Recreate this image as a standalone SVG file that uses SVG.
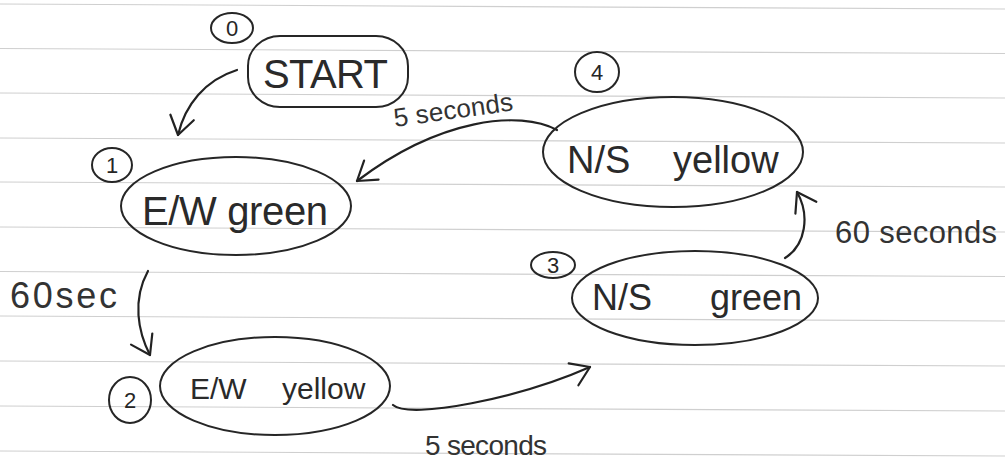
<svg xmlns="http://www.w3.org/2000/svg" width="1005" height="464" viewBox="0 0 1005 464">
<style>
.rule{stroke:#cfcfcf;stroke-width:1.2;fill:none}
.node{fill:none;stroke:#262626;stroke-width:2}
.num{fill:none;stroke:#262626;stroke-width:2}
.edge{fill:none;stroke:#222;stroke-width:2.2;stroke-linecap:round}
.t{font-family:"Liberation Sans",Arial,sans-serif;fill:#2a2a2a}
.lbl{font-family:"Liberation Sans",Arial,sans-serif;fill:#333}
.n{font-family:"Liberation Sans",Arial,sans-serif;fill:#262626;font-size:22px;text-anchor:middle}
</style>
<defs>
<marker id="ah" viewBox="-25 -20 30 40" markerWidth="30" markerHeight="40" refX="0" refY="0" orient="auto" markerUnits="userSpaceOnUse" overflow="visible">
<path d="M-18,-12 L0,0 L-18,12" fill="none" stroke="#222" stroke-width="2.2" stroke-linecap="round" stroke-linejoin="round"/>
</marker>
</defs>
<rect width="1005" height="464" fill="#fff"/>
<g id="paper">
<line class="rule" x1="0" y1="4" x2="1005" y2="9"/>
<line class="rule" x1="0" y1="48.5" x2="1005" y2="53.5"/>
<line class="rule" x1="0" y1="93" x2="1005" y2="98"/>
<line class="rule" x1="0" y1="138" x2="1005" y2="143"/>
<line class="rule" x1="0" y1="182" x2="1005" y2="187"/>
<line class="rule" x1="0" y1="227" x2="1005" y2="232"/>
<line class="rule" x1="0" y1="271.5" x2="1005" y2="276.5"/>
<line class="rule" x1="0" y1="316" x2="1005" y2="321"/>
<line class="rule" x1="0" y1="361" x2="1005" y2="366"/>
<line class="rule" x1="0" y1="406" x2="1005" y2="411"/>
<line class="rule" x1="0" y1="451" x2="1005" y2="456"/>
</g>
<g id="connectors">
<path class="edge" d="M237,70 C205,80 185,105 178,135" marker-end="url(#ah)"/>
<path class="edge" d="M557,130 C520,110 440,118 357,181" marker-end="url(#ah)"/>
<path class="edge" d="M148,271 C132,300 138,332 150,355" marker-end="url(#ah)"/>
<path class="edge" d="M393,405 C410,420 520,398 590,367" marker-end="url(#ah)"/>
<path class="edge" d="M785,258 C806,245 810,215 797,192" marker-end="url(#ah)"/>
<text class="lbl" transform="translate(395,127) rotate(-8)" font-size="26" textLength="120">5 seconds</text>
<text class="lbl" x="10" y="308" font-size="36" textLength="107">60sec</text>
<text class="lbl" x="425" y="455" font-size="28" textLength="122">5 seconds</text>
<text class="lbl" x="835" y="243" font-size="31" textLength="162">60 seconds</text>
</g>
<g id="node0">
<rect class="node" x="248" y="36" width="160" height="71" rx="32" ry="30"/>
<ellipse class="num" cx="232" cy="28" rx="21" ry="15"/>
<text class="n" x="232" y="36">0</text>
<text class="t" x="263" y="88" font-size="40" textLength="125">START</text>
</g>
<g id="node1">
<ellipse class="node" cx="236" cy="206" rx="115" ry="49"/>
<ellipse class="num" cx="112" cy="165" rx="20" ry="17"/>
<text class="n" x="112" y="173">1</text>
<text class="t" x="142" y="225" font-size="40" textLength="186">E/W green</text>
</g>
<g id="node2">
<ellipse class="node" cx="275" cy="386" rx="115" ry="49"/>
<ellipse class="num" cx="130" cy="400" rx="21" ry="23"/>
<text class="n" x="130" y="408">2</text>
<text class="t" y="399" font-size="30"><tspan x="190">E/W</tspan><tspan x="282">yellow</tspan></text>
</g>
<g id="node3">
<ellipse class="node" cx="695" cy="298" rx="123" ry="47"/>
<ellipse class="num" cx="553" cy="265" rx="22" ry="13"/>
<text class="n" x="553" y="273">3</text>
<text class="t" y="310" font-size="36"><tspan x="592">N/S</tspan><tspan x="710">green</tspan></text>
</g>
<g id="node4">
<ellipse class="node" cx="673" cy="152" rx="130" ry="55"/>
<ellipse class="num" cx="597" cy="72" rx="22" ry="20"/>
<text class="n" x="597" y="80">4</text>
<text class="t" y="173" font-size="38"><tspan x="567">N/S</tspan><tspan x="673">yellow</tspan></text>
</g>
</svg>
